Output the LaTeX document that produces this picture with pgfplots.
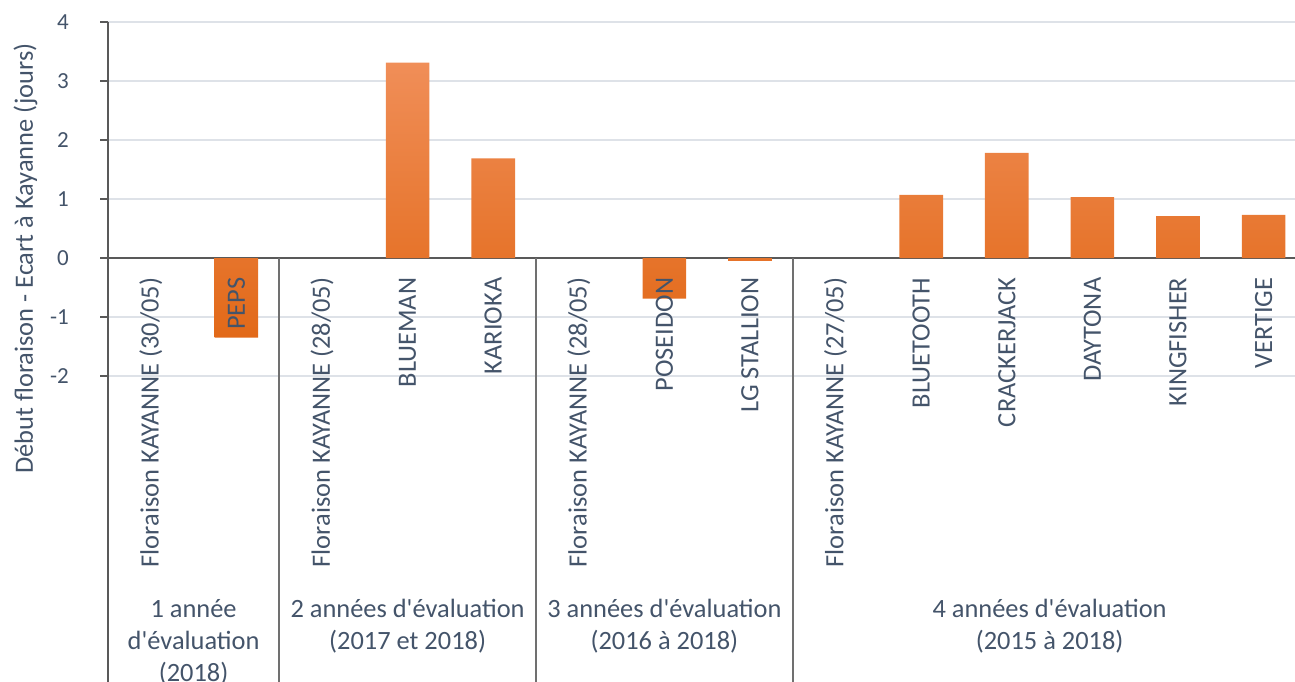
\documentclass[border=0pt]{standalone}
\usepackage{pgfplots}
\pgfplotsset{compat=1.18}
\usepackage{fontspec}
\setmainfont{Carlito}

\definecolor{txt}{RGB}{68,84,106}
\definecolor{axisgray}{RGB}{89,89,89}
\definecolor{sepgray}{RGB}{112,112,112}
\definecolor{gridc}{RGB}{222,226,232}
\definecolor{bartop}{RGB}{240,142,88}
\definecolor{barmid}{RGB}{244,126,42}
\definecolor{barbot}{RGB}{226,105,24}

\newcommand{\lab}{\fontsize{26.4bp}{31bp}\selectfont}
\newcommand{\ap}{\textquotesingle}

\begin{document}
\begin{tikzpicture}
% axis, grid and bars
\begin{axis}[
  at={(108bp,0bp)}, anchor=south west,
  scale only axis, width=1187bp, height=660bp,
  xmin=-0.5, xmax=13.367, ymin=-7.186, ymax=4,
  clip=false,
  axis x line*=middle, axis y line*=left,
  x axis line style={-, draw=axisgray, line width=2.5bp},
  y axis line style={-, draw=axisgray, line width=2.5bp},
  xtick={0,...,13}, xticklabels={}, xtick style={draw=none},
  ytick={-2,...,4},
  yticklabels={-2,-1,0,1,2,3,4},
  tick align=outside,
  major tick length=8bp,
  ytick style={draw=axisgray, line width=2bp},
  yticklabel style={font=\fontsize{23bp}{27bp}\selectfont, text=txt, anchor=east, inner sep=0pt},
  yticklabel shift=31bp,
  ymajorgrids,
  grid style={draw=gridc, line width=2bp},
  ylabel={Début floraison - Ecart à Kayanne (jours)},
  every axis y label/.style={at={(axis description cs:-0.0632,0.6417)}, rotate=90, anchor=base, font=\lab, text=txt},
]
\addplot[ybar, bar width=0.51, draw=none, top color=bartop, middle color=barmid, bottom color=barbot]
  coordinates {(1,-1.35) (3,3.31) (4,1.69) (6,-0.69) (7,-0.05)
               (9,1.07) (10,1.78) (11,1.03) (12,0.71) (13,0.73)};

\draw[sepgray, line width=2bp] (axis cs:1.5,0) -- (axis cs:1.5,-7.186)
  (axis cs:4.5,0) -- (axis cs:4.5,-7.186)
  (axis cs:7.5,0) -- (axis cs:7.5,-7.186);

\begin{scope}[every node/.style={font=\lab, text=txt, anchor=base, inner sep=0pt}]
\node at (axis cs:0.5,-6.093) {1 année};
\node at (axis cs:0.5,-6.635) {d\ap évaluation};
\node at (axis cs:0.5,-7.178) {(2018)};
\node at (axis cs:3,-6.093) {2 années d\ap évaluation};
\node at (axis cs:3,-6.635) {(2017 et 2018)};
\node at (axis cs:6,-6.093) {3 années d\ap évaluation};
\node at (axis cs:6,-6.635) {(2016 à 2018)};
\node at (axis cs:10.5,-6.093) {4 années d\ap évaluation};
\node at (axis cs:10.5,-6.635) {(2015 à 2018)};
\end{scope}
\end{axis}
% category names, drawn over the bars: an empty box whose bottom edge is
% where the rotated names begin
\begin{axis}[
  at={(108bp,404.5bp)}, anchor=south west,
  scale only axis, width=1187bp, height=255.5bp,
  xmin=-0.5, xmax=13.367, ymin=0, ymax=1,
  axis line style={draw=none},
  ytick=\empty,
  xtick={0,...,13},
  xticklabels={Floraison KAYANNE (30/05), PEPS,
    Floraison KAYANNE (28/05), BLUEMAN, KARIOKA,
    Floraison KAYANNE (28/05), POSEIDON, LG STALLION,
    Floraison KAYANNE (27/05), BLUETOOTH, CRACKERJACK, DAYTONA, KINGFISHER, VERTIGE},
  xtick style={draw=none},
  xticklabel style={rotate=90, anchor=east, font=\lab, text=txt, inner sep=0pt},
]
\end{axis}
\pgfresetboundingbox
\useasboundingbox (0,0) rectangle (1295bp,682bp);
\end{tikzpicture}
\end{document}
